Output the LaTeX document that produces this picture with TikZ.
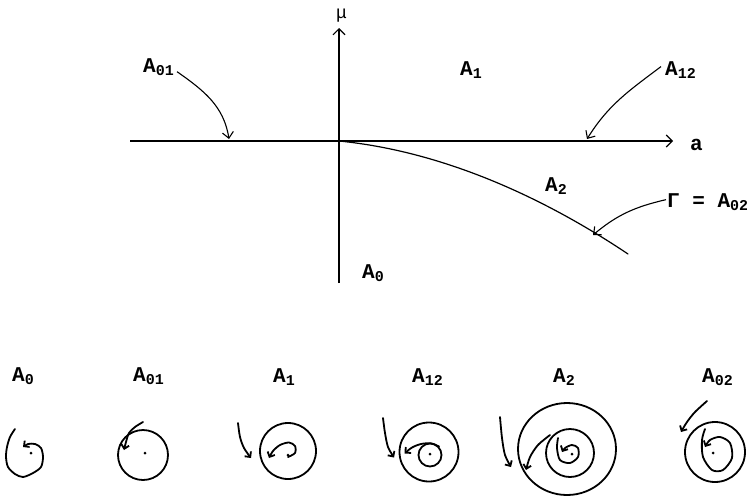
\documentclass[tikz,border=0pt]{standalone}
\usepackage{fontspec}
\setmainfont{Liberation Mono}
\usetikzlibrary{arrows.meta,positioning}
\newcommand{\sub}[1]{\raisebox{-3pt}{\fontsize{15}{15}\selectfont #1}}

\begin{document}
\begin{tikzpicture}[
    x=1pt, y=1pt,
    lbl/.style={inner sep=0pt, anchor=base west, font=\fontsize{21}{24}\selectfont\bfseries},
    axis/.style={line width=1.1pt, -{Straight Barb[length=6pt,width=12pt]}},
    pointer/.style={line width=1.1pt, -{Straight Barb[length=6pt,width=11pt]}},
    traj/.style={line width=1.8pt, line cap=round, line join=round},
    flow/.style={traj, -{Straight Barb[length=4pt,width=8pt]}},
    dot/.style={circle, fill, inner sep=0pt, minimum size=3pt}
]
    \useasboundingbox (0,0) rectangle (747,-496);

    % bifurcation diagram
    \coordinate (O) at (339,-141);
    \coordinate (aL) at (130,-141);
    \coordinate (aR) at (673,-141);
    \coordinate (muB) at (339,-283);
    \coordinate (muT) at (339,-28);
    \coordinate (gEnd) at (628,-254);
    \draw[axis] (aL) -- (aR);
    \draw[axis] (muB) -- (muT);
    \draw[traj, line width=1.2pt] (O) .. controls (440,-151) and (540,-195) .. (gEnd);

    \node[lbl, font=\fontsize{18}{20}\selectfont] (lmu) at (336,-18) {μ};
    \node[lbl] (la) at (690,-150) {a};
    \node[lbl] (lA01) at (143,-72) {A\sub{01}};
    \node[lbl] (lA1) at (460,-75) {A\sub{1}};
    \node[lbl] (lA12) at (665,-75) {A\sub{12}};
    \node[lbl] (lA2) at (545,-191) {A\sub{2}};
    \node[lbl] (lA0) at (362,-278) {A\sub{0}};
    \node[lbl] (lG) at (667,-207) {Γ = A\sub{02}};

    \coordinate (p01) at (229,-139);
    \coordinate (p12) at (587,-139);
    \coordinate (pG) at (593,-235);
    \draw[pointer] ([xshift=3pt,yshift=-5pt]lA01.east) to[out=-35,in=99] (p01);
    \draw[pointer] ([xshift=-4pt,yshift=3pt]lA12.west) to[out=217,in=58] (p12);
    \draw[pointer] ([xshift=-1pt,yshift=2pt]lG.west) to[out=193,in=40] (pG);

    % phase portraits
    \node[lbl] (bA0) at (12,-381) {A\sub{0}};
    \node[lbl] (bA01) at (133,-381) {A\sub{01}};
    \node[lbl] (bA1) at (273,-382) {A\sub{1}};
    \node[lbl] (bA12) at (412,-382) {A\sub{12}};
    \node[lbl] (bA2) at (553,-382) {A\sub{2}};
    \node[lbl] (bA02) at (702,-382) {A\sub{02}};

    % A_0
    \begin{scope}[shift={(31,-453)}]
        \node[dot] (d0) at (0,0) {};
        \draw[flow] plot[smooth] coordinates {(-16,24) (-21,16) (-24,6) (-25,-4) (-23,-14) (-16,-21) (-8,-24) (2,-20) (10,-14) (12,-4) (10,5) (4,9) (-3,9) (-8,6)};
    \end{scope}

    % A_01
    \begin{scope}[shift={(145,-453)}]
        \node[dot] (d01) at (0,0) {};
        \draw[traj] (-2,-2) circle (25);
        \draw[flow] plot[smooth] coordinates {(-2,31) (-10,26) (-16,20) (-19,11) (-21,3)};
    \end{scope}

    % A_1
    \begin{scope}[shift={(288,-455)}]
        \node[dot] (d1) at (0,0) {};
        \draw[traj] (0,4) circle (28);
        \draw[flow] plot[smooth] coordinates {(0,-2) (7,2) (7,9) (1,12.5) (-8,10) (-15,4) (-19,-3)};
        \draw[flow] plot[smooth] coordinates {(-50,32) (-48,18) (-44,7) (-37,-3)};
    \end{scope}

    % A_12
    \begin{scope}[shift={(430,-454)}]
        \node[dot] (d12) at (0,0) {};
        \draw[traj] (-1,2) circle (29.5);
        \draw[traj] (0,-1) circle (11.5);
        \draw[flow] plot[smooth] coordinates {(9,7.5) (1,10.7) (-9,10) (-18,6.5) (-25.5,0.5)};
        \draw[flow] plot[smooth] coordinates {(-47,36) (-45,21) (-42,7) (-36,-3.5)};
    \end{scope}

    % A_2
    \begin{scope}[shift={(572,-454)}]
        \node[dot] (d2) at (0,0) {};
        \draw[traj] (-5,5) ellipse (49 and 46);
        \draw[traj] (-2,1) circle (24);
        \draw[flow] plot[smooth] coordinates {(-14,16) (-15,6) (-12,-6) (-2,-9) (6,-3) (6,6) (0,9) (-7,6) (-10,2)};
        \draw[flow] plot[smooth] coordinates {(-22,19) (-34,9) (-42,-3) (-46,-16)};
        \draw[flow] plot[smooth] coordinates {(-72,37) (-70,16) (-67,-1) (-61,-13)};
    \end{scope}

    % A_02
    \begin{scope}[shift={(713,-453)}]
        \node[dot] (d02) at (0,0) {};
        \draw[traj] (2,1) circle (30);
        \draw[flow] plot[smooth] coordinates {(-8,24) (-11,13) (-10,-4) (-1,-17) (10,-17) (19,-5) (17,10) (7,16) (-3,13) (-8,6)};
        \draw[flow] plot[smooth] coordinates {(-6,52) (-18,41) (-26,31) (-32,21)};
    \end{scope}
\end{tikzpicture}
\end{document}
